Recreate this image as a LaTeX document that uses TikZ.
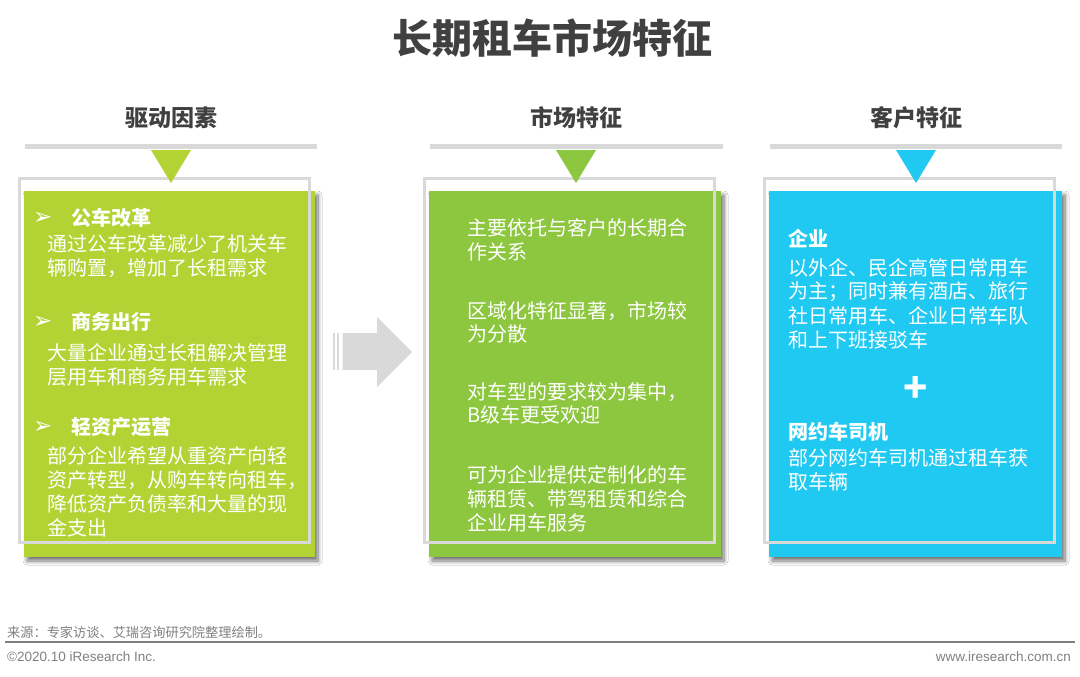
\documentclass[tikz,border=0pt]{standalone}
\usepackage{fontspec}
\setmainfont{Noto Sans CJK SC}
\newfontfamily\djv{DejaVu Sans}
\newfontfamily\arialf{Liberation Sans}
\usetikzlibrary{shadows.blur}
\definecolor{lgreen}{HTML}{B3D334}
\definecolor{mgreen}{HTML}{8DC63F}
\definecolor{cblue}{HTML}{20C9F2}
\definecolor{lgray}{HTML}{D9D9D9}
\definecolor{tgray}{HTML}{404040}
\definecolor{fgray}{HTML}{808080}
\begin{document}
\begin{tikzpicture}[x=1pt,y=-1pt,
  titletxt/.style={font=\fontsize{40}{46}\selectfont\bfseries, text=tgray, inner sep=0},
  hdr/.style={font=\fontsize{23}{28}\selectfont\bfseries, text=tgray, inner sep=0},
  bodytxt/.style={font=\fontsize{20}{24}\selectfont, text=white, inner sep=0, anchor=west},
  boldtxt/.style={font=\fontsize{20}{24}\selectfont\bfseries, text=white, inner sep=0, anchor=west},
  bul/.style={font=\djv\fontsize{23}{26}\selectfont, text=white, inner sep=0, anchor=west},
  card/.style={blur shadow={shadow xshift=3pt, shadow yshift=-4pt, shadow blur radius=4pt, shadow blur steps=8, shadow opacity=55}},
  framebox/.style={draw=lgray, line width=3pt},
  hline/.style={draw=lgray, line width=5pt},
  foot/.style={text=fgray, inner sep=0}
]
\useasboundingbox (0,0) rectangle (1080,677);
\fill[white] (0,0) rectangle (1080,677);

% title
\node[titletxt] (title) at (552,38) {长期租车市场特征};

% header lines
\draw[hline] (25,146.5) -- (317,146.5);
\draw[hline] (430,146.5) -- (723,146.5);
\draw[hline] (770,146.5) -- (1062,146.5);

% headers
\node[hdr] (h-left) at (171,118) {驱动因素};
\node[hdr] (h-mid) at (576,118) {市场特征};
\node[hdr] (h-right) at (916,118) {客户特征};

% cards
\path[card, fill=lgreen] (24,191) rectangle (315,557);
\path[card, fill=mgreen] (429,191) rectangle (721,557);
\path[card, fill=cblue] (769,191) rectangle (1062,557);

% frames
\draw[framebox] (19.5,178.5) rectangle (309,542);
\draw[framebox] (424.5,178.5) rectangle (714,542);
\draw[framebox] (764.5,178.5) rectangle (1054,542);

% triangles
\fill[lgreen] (151,150) -- (191,150) -- (171,183) -- cycle;
\fill[mgreen] (556,150) -- (596,150) -- (576,183) -- cycle;
\fill[cblue] (896,150) -- (936,150) -- (916,183) -- cycle;

% arrow
\fill[lgray] (333.3,333) rectangle (335.3,370);
\fill[lgray] (337.3,333) rectangle (339.3,370);
\fill[lgray] (342.7,333) -- (377,333) -- (377,317) -- (412,352) -- (377,387) -- (377,370) -- (342.7,370) -- cycle;

% left card text
\node[bul] (b1) at (33,218) {➢};
\node[boldtxt] (k1) at (71,218) {公车改革};
\node[bodytxt] (t1a) at (47,244) {通过公车改革减少了机关车};
\node[bodytxt] (t1b) at (47,268) {辆购置，增加了长租需求};
\node[bul] (b2) at (33,322) {➢};
\node[boldtxt] (k2) at (71,322) {商务出行};
\node[bodytxt] (t2a) at (47,353) {大量企业通过长租解决管理};
\node[bodytxt] (t2b) at (47,377) {层用车和商务用车需求};
\node[bul] (b3) at (33,427) {➢};
\node[boldtxt] (k3) at (71,427) {轻资产运营};
\node[bodytxt] (t3a) at (47,456) {部分企业希望从重资产向轻};
\node[bodytxt] (t3b) at (47,480) {资产转型，从购车转向租车，};
\node[bodytxt] (t3c) at (47,504) {降低资产负债率和大量的现};
\node[bodytxt] (t3d) at (47,528) {金支出};

% middle card text
\node[bodytxt] (m1a) at (467,228) {主要依托与客户的长期合};
\node[bodytxt] (m1b) at (467,252) {作关系};
\node[bodytxt] (m2a) at (467,311) {区域化特征显著，市场较};
\node[bodytxt] (m2b) at (467,334) {为分散};
\node[bodytxt] (m3a) at (467,392) {对车型的要求较为集中，};
\node[bodytxt] (m3b) at (467,415) {B级车更受欢迎};
\node[bodytxt] (m4a) at (467,475) {可为企业提供定制化的车};
\node[bodytxt] (m4b) at (467,499) {辆租赁、带驾租赁和综合};
\node[bodytxt] (m4c) at (467,523) {企业用车服务};

% right card text
\node[boldtxt] (r1) at (788,239) {企业};
\node[bodytxt] (r1a) at (788,268) {以外企、民企高管日常用车};
\node[bodytxt] (r1b) at (788,292) {为主；同时兼有酒店、旅行};
\node[bodytxt] (r1c) at (788,316) {社日常用车、企业日常车队};
\node[bodytxt] (r1d) at (788,340) {和上下班接驳车};
\node[font=\fontsize{40}{44}\selectfont\bfseries, text=white, inner sep=0] (plus) at (916,389) {+};
\node[boldtxt] (r2) at (788,432) {网约车司机};
\node[bodytxt] (r2a) at (788,458) {部分网约车司机通过租车获};
\node[bodytxt] (r2b) at (788,482) {取车辆};

% footer
\node[foot, anchor=west, font=\fontsize{13.2}{15}\selectfont] (src) at (7,632) {来源：专家访谈、艾瑞咨询研究院整理绘制。};
\draw[fgray, line width=1.5pt] (5,642) -- (1075,642);
\node[foot, anchor=west, font=\arialf\fontsize{13.5}{15}\selectfont] (copy) at (7,657) {©2020.10 iResearch Inc.};
\node[foot, anchor=east, font=\arialf\fontsize{13.5}{15}\selectfont] (www) at (1071,657) {www.iresearch.com.cn};
\end{tikzpicture}
\end{document}
